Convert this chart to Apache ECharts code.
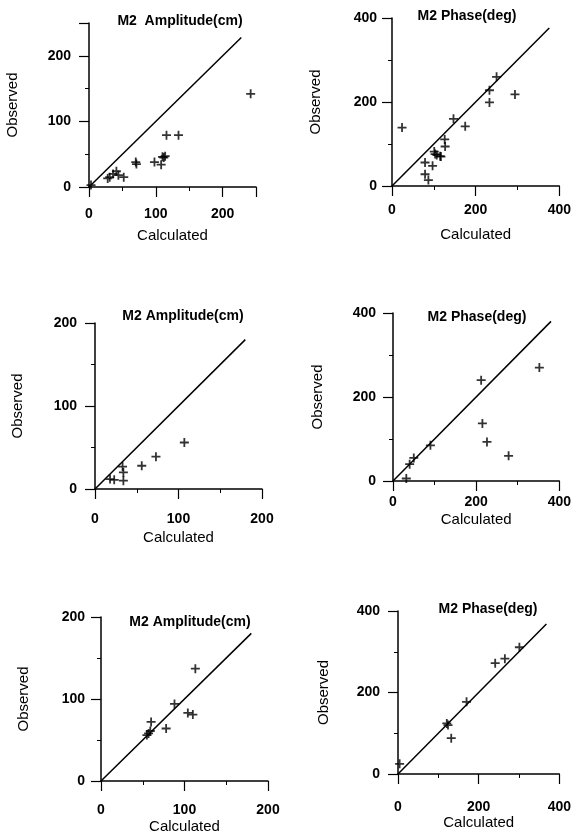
<!DOCTYPE html>
<html>
<head>
<meta charset="utf-8">
<script src="https://cdn.jsdelivr.net/npm/echarts@6/dist/echarts.min.js"></script>
<style>html,body{margin:0;padding:0;background:#fff}#c{width:574px;height:835px}</style>
</head>
<body>
<div id="c"></div>
<script>
// ---- data ----
const titles = ['M2  Amplitude(cm)', 'M2 Phase(deg)', 'M2 Amplitude(cm)', 'M2 Phase(deg)', 'M2 Amplitude(cm)', 'M2 Phase(deg)'];
const xName = 'Calculated';
const yName = 'Observed';
const axisMax = [250, 400, 200, 400, 200, 400];
const tickStep = [50, 100, 50, 100, 50, 100];
const labelStep = [100, 200, 100, 200, 100, 200];
const lineEnd = [228, 376, 180, 380, 180, 368];

const amp1X = [242, 116, 134, 114, 110, 112, 108, 98, 70, 71, 41, 44, 52, 31, 28, 36, 3];
const amp1Y = [142, 79, 79, 47, 46, 45, 34, 38, 38, 35, 24, 18, 15, 15, 13, 20, 3];
const ph1X = [24, 250, 233, 233, 294, 147, 175, 126, 127, 101, 103, 107, 115, 117, 79, 97, 79, 87];
const ph1Y = [139, 260, 228, 199, 218, 160, 142, 111, 94, 82, 76, 74, 71, 70, 56, 48, 28, 14];
const amp2X = [107, 73, 56, 34, 33, 34, 18, 23];
const amp2Y = [56, 39, 28, 20, 27, 10, 12, 11];
const ph2X = [352, 212, 215, 226, 278, 90, 50, 40, 32];
const ph2Y = [270, 240, 137, 93, 60, 85, 55, 40, 6];
const amp3X = [113, 88, 104, 110, 78, 60, 59, 57, 55];
const amp3Y = [137, 94, 83, 81, 64, 72, 61, 58, 56];
const ph3X = [301, 265, 241, 170, 121, 124, 132, 4];
const ph3Y = [311, 283, 272, 177, 124, 120, 88, 25];

const seriesX = [amp1X, ph1X, amp2X, ph2X, amp3X, ph3X];
const seriesY = [amp1Y, ph1Y, amp2Y, ph2Y, amp3Y, ph3Y];

// ---- layout ----
const grids = [
  {left: 89, top: 23, width: 167, height: 164},
  {left: 392, top: 18, width: 168, height: 168},
  {left: 95, top: 323, width: 167, height: 166},
  {left: 393, top: 313, width: 167, height: 168},
  {left: 101, top: 617, width: 167, height: 165},
  {left: 398, top: 611, width: 168, height: 163}
];
const titlePos = [[175, 9], [462, 4], [178, 304], [472, 305], [185, 610], [483, 597]];
const xNameGap = [41, 41, 41, 31, 38, 40];
const yNameGap = [69, 69, 70, 68, 70, 67];
const xLabelMargin = [20, 17, 23, 14, 22, 26];
const yLabelMargin = [18, 15, 18, 17, 16, 18];

const plus = 'path://M4,0H6V4H10V6H6V10H4V6H0V4H4Z';
const font = 'Liberation Sans, Arial, sans-serif';

const chart = echarts.init(document.getElementById('c'), null, {renderer: 'canvas'});
const option = {
  backgroundColor: '#fff',
  animation: false,
  title: [], grid: [], xAxis: [], yAxis: [], series: []
};

for (let i = 0; i < 6; i++) {
  option.title.push({
    text: titles[i], left: titlePos[i][0], top: titlePos[i][1], textAlign: 'center',
    textStyle: {fontFamily: font, fontSize: 14, fontWeight: 'bold', color: '#000'}
  });
  option.grid.push(grids[i]);
  const step = labelStep[i];
  const lbl = (m) => ({margin: m, fontFamily: font, fontSize: 14, fontWeight: 'bold', color: '#000',
      formatter: v => (v % step === 0 ? String(v) : '')});
  const base = {
    type: 'value', min: 0, max: axisMax[i], interval: tickStep[i],
    splitLine: {show: false},
    axisLine: {show: true, onZero: false, lineStyle: {color: '#000', width: 1.5}},
    axisTick: {show: true, length: 4, lineStyle: {color: '#000', width: 1}},
    nameLocation: 'middle',
    nameTextStyle: {fontFamily: font, fontSize: 15, color: '#000'}
  };
  const major = {
    type: 'value', min: 0, max: axisMax[i], interval: labelStep[i],
    splitLine: {show: false}, axisLabel: {show: false},
    axisLine: {show: false},
    axisTick: {show: true, length: 10, lineStyle: {color: '#000', width: 1.2}}
  };
  option.xAxis.push(Object.assign({}, base, {
    gridIndex: i, position: 'bottom', name: xName, nameGap: xNameGap[i], axisLabel: lbl(xLabelMargin[i])
  }));
  option.yAxis.push(Object.assign({}, base, {
    gridIndex: i, position: 'left', name: yName, nameGap: yNameGap[i], axisLabel: lbl(yLabelMargin[i])
  }));
  option.xAxis.push(Object.assign({}, major, {gridIndex: i, position: 'bottom', offset: 0}));
  option.yAxis.push(Object.assign({}, major, {gridIndex: i, position: 'left', offset: 0}));
  const xi = 2 * i, yi = 2 * i;
  option.series.push({
    type: 'line', xAxisIndex: xi, yAxisIndex: yi, symbol: 'none',
    lineStyle: {color: '#000', width: 1.5},
    data: [[0, 0], [lineEnd[i], lineEnd[i]]]
  });
  option.series.push({
    type: 'scatter', xAxisIndex: xi, yAxisIndex: yi, symbol: plus, symbolSize: 9,
    itemStyle: {color: '#000'},
    data: seriesX[i].map((x, k) => [x, seriesY[i][k]])
  });
}
chart.setOption(option);
</script>
</body>
</html>
